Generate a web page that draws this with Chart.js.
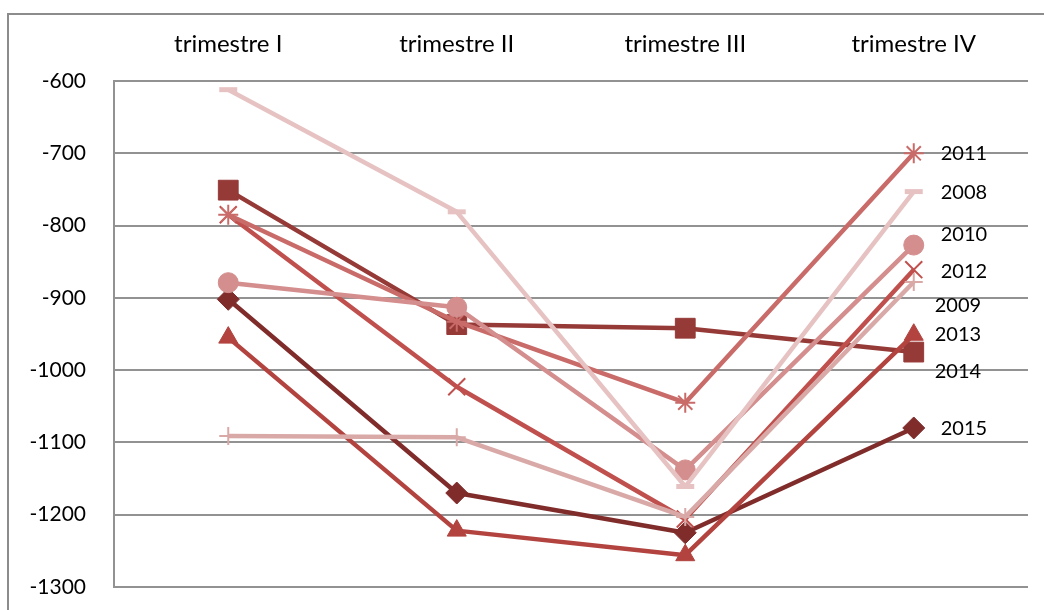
<!DOCTYPE html>
<html>
<head>
<meta charset="utf-8">
<script src="https://cdn.jsdelivr.net/npm/chart.js@4/dist/chart.umd.min.js"></script>
<style>
  html, body { margin: 0; padding: 0; background: #fff; overflow: hidden; }
  #frame { position: absolute; left: 7px; top: 13px; width: 1100px; height: 700px; border: 2px solid #8c8c8c; }
  #wrap { position: absolute; left: 0; top: 0; width: 1044px; height: 610px; }
</style>
</head>
<body>
<div id="frame"></div>
<div id="wrap"><canvas id="chart" width="1044" height="610"></canvas></div>
<script>
(function () {
  const quarters = ['trimestre I', 'trimestre II', 'trimestre III', 'trimestre IV'];
  const years = ['2008', '2009', '2010', '2011', '2012', '2013', '2014', '2015'];

  const v2008 = [-612, -781, -1161, -753];
  const v2009 = [-1091, -1093, -1203, -878];
  const v2010 = [-879, -913, -1138, -827];
  const v2011 = [-785, -933, -1045, -700];
  const v2012 = [-785, -1023, -1206, -861];
  const v2013 = [-955, -1222, -1256, -951];
  const v2014 = [-751, -937, -942, -975];
  const v2015 = [-902, -1170, -1225, -1080];

  const yTicks = [-600, -700, -800, -900, -1000, -1100, -1200, -1300];

  const values = [v2008, v2009, v2010, v2011, v2012, v2013, v2014, v2015];
  const colors = ['#e6c3c2', '#d9a9a8', '#d38e8d', '#c96b69', '#c0504d', '#b2433f', '#953a37', '#7f2c2b'];
  const markers = ['line', 'cross', 'circle', 'star', 'crossRot', 'triangle', 'rect', 'rectRot'];
  const markerSize = [9, 9, 10, 10, 12, 11, 14, 11];
  const markerBorder = [5, 2, 1, 2, 2, 1, 1, 1];
  // end label nudges (dx, dy) so names do not collide
  const labelNudge = [[27, 1], [21, 24], [27, -11], [27, 0], [27, 2], [21, 0], [21, 19], [27, 1]];

  const datasets = years.map((y, i) => ({
    label: y,
    data: values[i],
    borderColor: colors[i],
    backgroundColor: colors[i],
    borderWidth: 4.5,
    tension: 0,
    pointStyle: markers[i],
    pointRadius: markerSize[i],
    pointHoverRadius: markerSize[i],
    pointBackgroundColor: colors[i],
    pointBorderColor: colors[i],
    pointBorderWidth: markerBorder[i],
    borderJoinStyle: 'round'
  }));

  const endLabels = {
    id: 'endLabels',
    afterDatasetsDraw(chart) {
      const ctx = chart.ctx;
      ctx.save();
      ctx.font = '20px Lato';
      ctx.fillStyle = '#000';
      ctx.textBaseline = 'middle';
      ctx.textAlign = 'left';
      chart.data.datasets.forEach((ds, i) => {
        const meta = chart.getDatasetMeta(i);
        const pt = meta.data[meta.data.length - 1];
        if (!pt) return;
        ctx.fillText(ds.label, pt.x + labelNudge[i][0], pt.y + labelNudge[i][1]);
      });
      ctx.restore();
    }
  };

  new Chart(document.getElementById('chart'), {
    type: 'line',
    data: { labels: quarters, datasets: datasets },
    plugins: [endLabels],
    options: {
      responsive: false,
      animation: false,
      layout: { autoPadding: false, padding: { left: 0, top: 0, right: 16, bottom: 23 } },
      plugins: {
        legend: { display: false },
        tooltip: { enabled: false }
      },
      scales: {
        x: {
          position: 'top',
          offset: true,
          grid: { display: false, drawTicks: false },
          border: { display: false },
          ticks: {
            color: '#000',
            font: { family: 'Lato', size: 24 },
            padding: 22,
            maxRotation: 0
          },
          afterFit(s) {
            s.height = 81;
            s.paddingLeft = 0; s.paddingRight = 0; s.paddingTop = 0; s.paddingBottom = 0;
          }
        },
        y: {
          min: -1300,
          max: -600,
          afterBuildTicks(s) { s.ticks = yTicks.map(v => ({ value: v })); },
          grid: { color: '#929292', lineWidth: 2, drawTicks: false },
          border: { display: true, color: '#929292', width: 2 },
          ticks: {
            color: '#000',
            font: { family: 'Lato', size: 21 },
            padding: 28,
            callback(value) { return String(value); }
          },
          afterFit(s) {
            s.width = 114;
            s.paddingLeft = 0; s.paddingRight = 0; s.paddingTop = 0; s.paddingBottom = 0;
          }
        }
      }
    }
  });
})();
</script>
</body>
</html>
